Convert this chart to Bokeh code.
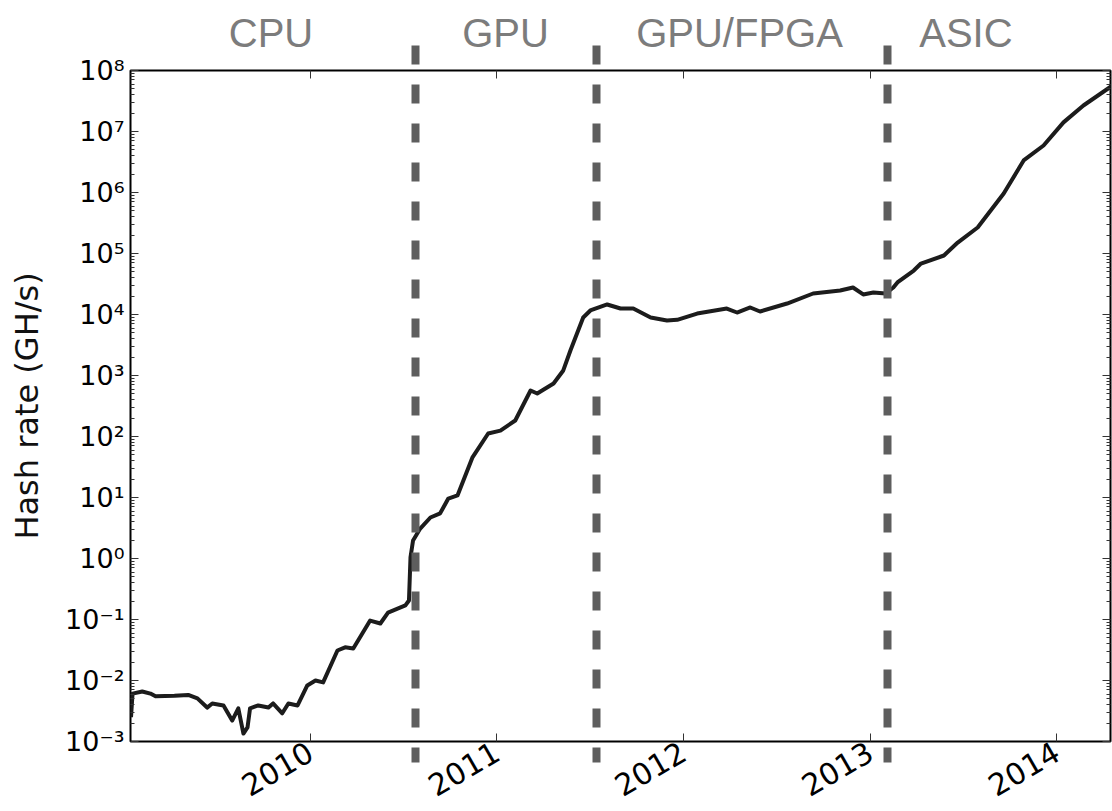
import pandas as pd
from bokeh.plotting import figure
from bokeh.models import (FixedTicker, CustomJSTickFormatter, LinearAxis, LogAxis, Range1d)
from bokeh.embed import file_html
from bokeh.resources import INLINE

# ---------------- data ----------------
dates = [
    "2009-01-15", "2009-01-18", "2009-02-06", "2009-02-22", "2009-03-04", "2009-04-10",
    "2009-05-07", "2009-05-25", "2009-06-13", "2009-06-23", "2009-07-15", "2009-08-01",
    "2009-08-13", "2009-08-23", "2009-08-31", "2009-09-05", "2009-09-21", "2009-10-11",
    "2009-10-20", "2009-11-07", "2009-11-19", "2009-12-07", "2009-12-26", "2010-01-11",
    "2010-01-26", "2010-02-23", "2010-03-10", "2010-03-26", "2010-04-28", "2010-05-18",
    "2010-06-02", "2010-07-06", "2010-07-13", "2010-07-16", "2010-07-21", "2010-08-04",
    "2010-08-24", "2010-09-12", "2010-09-28", "2010-10-16", "2010-11-14", "2010-12-15",
    "2011-01-08", "2011-02-06", "2011-03-08", "2011-03-21", "2011-04-22", "2011-05-11",
    "2011-05-25", "2011-06-19", "2011-07-03", "2011-08-05", "2011-08-31", "2011-09-25",
    "2011-10-29", "2011-11-30", "2011-12-20", "2012-01-28", "2012-03-26", "2012-04-15",
    "2012-05-11", "2012-05-30", "2012-07-22", "2012-09-11", "2012-11-03", "2012-11-28",
    "2012-12-18", "2013-01-07", "2013-01-31", "2013-02-15", "2013-02-23", "2013-03-27",
    "2013-04-10", "2013-05-25", "2013-06-21", "2013-07-30", "2013-09-19", "2013-10-28",
    "2013-12-06", "2014-01-14", "2014-02-22", "2014-04-20",
]
hash_rate = [
    0.0025, 0.0061, 0.0066, 0.0061, 0.0055, 0.0056,
    0.0058, 0.0051, 0.0036, 0.0042, 0.0039, 0.0022,
    0.0035, 0.00135, 0.0017, 0.0035, 0.0039, 0.0036,
    0.0042, 0.0029, 0.0042, 0.0039, 0.0083, 0.0100,
    0.0093, 0.031, 0.035, 0.0335, 0.096, 0.086,
    0.130, 0.170, 0.205, 1.05, 1.97, 3.1,
    4.7, 5.5, 9.6, 10.8, 45, 112,
    125, 183, 568, 507, 740, 1210,
    2570, 8930, 11640, 14600, 12530, 12500,
    8930, 7980, 8170, 10370, 12530, 10780,
    13030, 11200, 15140, 22090, 24720, 27700,
    21300, 22960, 22090, 27700, 33500, 52600,
    68500, 92700, 151000, 267000, 964000, 3350000,
    5900000, 14100000, 26700000, 56800000,
]

era_names = ["CPU", "GPU", "GPU/FPGA", "ASIC"]
era_label_dates = ["2009-10-16", "2011-01-18", "2012-04-20", "2013-07-07"]
era_boundaries = ["2010-07-25", "2011-07-16", "2013-02-04"]

year_ticks = [2010, 2011, 2012, 2013, 2014]
y_exponents = list(range(-3, 9))
x_start, x_end = "2009-01-14", "2014-04-16"
y_label = "Hash rate (GH/s)"


def ms(d):
    return pd.Timestamp(d).value / 1e6


xs = [ms(d) for d in dates]
x_ticks = [ms(f"{y}-01-01") for y in year_ticks]
y_major = [10.0 ** e for e in y_exponents]
y_minor = [m * 10.0 ** e for e in y_exponents[:-1] for m in range(2, 10)]
boundary_ms = [ms(d) for d in era_boundaries]
label_ms = [ms(d) for d in era_label_dates]

FRAME_H = 671  # plot frame height in px

p = figure(width=1112, height=811, x_axis_type="datetime", y_axis_type="log",
           x_range=Range1d(ms(x_start), ms(x_end)), y_range=Range1d(1e-3, 1e8),
           output_backend="svg", toolbar_location=None,
           min_border_left=130, min_border_right=2, min_border_top=70, min_border_bottom=70)
p.background_fill_color = "white"
p.border_fill_color = "white"
p.xgrid.visible = False
p.ygrid.visible = False
p.outline_line_color = "black"
p.outline_line_width = 2
p.outline_line_alpha = 1

p.line(xs, hash_rate, line_color="#1c1c1c", line_width=4, line_join="round")

yfmt = CustomJSTickFormatter(code="""
const e = Math.round(Math.log10(tick));
const sup = {"-":"\u207b","0":"\u2070","1":"\u00b9","2":"\u00b2","3":"\u00b3","4":"\u2074",
             "5":"\u2075","6":"\u2076","7":"\u2077","8":"\u2078","9":"\u2079"};
return "10" + String(e).split("").map(c => sup[c]).join("");
""")
xfmt = CustomJSTickFormatter(code="return String(new Date(tick).getUTCFullYear());")
era_fmt = CustomJSTickFormatter(args=dict(names=era_names), code="return names[index];")
blank_fmt = CustomJSTickFormatter(code="return '';")


def style_axis(ax, show_labels):
    ax.axis_line_color = None
    ax.major_tick_in = 8
    ax.major_tick_out = 0
    ax.minor_tick_in = 4
    ax.minor_tick_out = 0
    ax.major_tick_line_color = "#333333"
    ax.minor_tick_line_color = "#333333"
    ax.major_tick_line_width = 1
    ax.minor_tick_line_width = 1
    if not show_labels:
        ax.major_label_text_font_size = "0px"
        ax.major_label_text_color = None
        ax.major_label_standoff = 0


# left axis
ya = p.yaxis[0]
ya.ticker = FixedTicker(ticks=y_major, minor_ticks=y_minor)
ya.formatter = yfmt
style_axis(ya, True)
ya.major_label_text_font = "DejaVu Sans"
ya.major_label_text_font_size = "27px"
ya.major_label_text_color = "black"
ya.major_label_standoff = 6
ya.axis_label = y_label
ya.axis_label_text_font = "DejaVu Sans"
ya.axis_label_text_font_size = "32px"
ya.axis_label_text_font_style = "normal"
ya.axis_label_text_color = "#111111"
ya.axis_label_standoff = 16

# bottom axis
xa = p.xaxis[0]
xa.ticker = FixedTicker(ticks=x_ticks)
xa.formatter = xfmt
style_axis(xa, True)
xa.minor_tick_line_color = None
xa.major_label_text_font = "DejaVu Sans"
xa.major_label_text_font_size = "30px"
xa.major_label_text_color = "black"
xa.major_label_orientation = 0.5236
xa.major_label_standoff = 8

# right spine ticks
ry = LogAxis(ticker=FixedTicker(ticks=y_major, minor_ticks=y_minor), formatter=blank_fmt)
style_axis(ry, False)
p.add_layout(ry, "right")

# top: era boundaries as long dashed ticks (crossing the frame), years as small inner ticks
ta = LinearAxis(ticker=FixedTicker(ticks=boundary_ms, minor_ticks=x_ticks), formatter=blank_fmt)
style_axis(ta, False)
ta.major_tick_out = 25
ta.major_tick_in = FRAME_H + 21
ta.major_tick_line_color = "#5e5e5e"
ta.major_tick_line_width = 8
ta.major_tick_line_dash = "19 20"
ta.major_tick_line_cap = "butt"
ta.minor_tick_in = 8
ta.minor_tick_out = 0
ta.minor_tick_line_color = "#333333"
p.add_layout(ta, "above")

# top: era names
ea = LinearAxis(ticker=FixedTicker(ticks=label_ms), formatter=era_fmt)
ea.axis_line_color = None
ea.major_tick_line_color = None
ea.minor_tick_line_color = None
ea.major_tick_in = 0
ea.major_tick_out = 0
ea.minor_tick_in = 0
ea.minor_tick_out = 0
ea.major_label_text_font = "Liberation Sans"
ea.major_label_text_font_size = "40px"
ea.major_label_text_color = "#7c7c7c"
ea.major_label_standoff = -9
p.add_layout(ea, "above")

open("out.html", "w", encoding="utf-8").write(file_html(p, INLINE))
